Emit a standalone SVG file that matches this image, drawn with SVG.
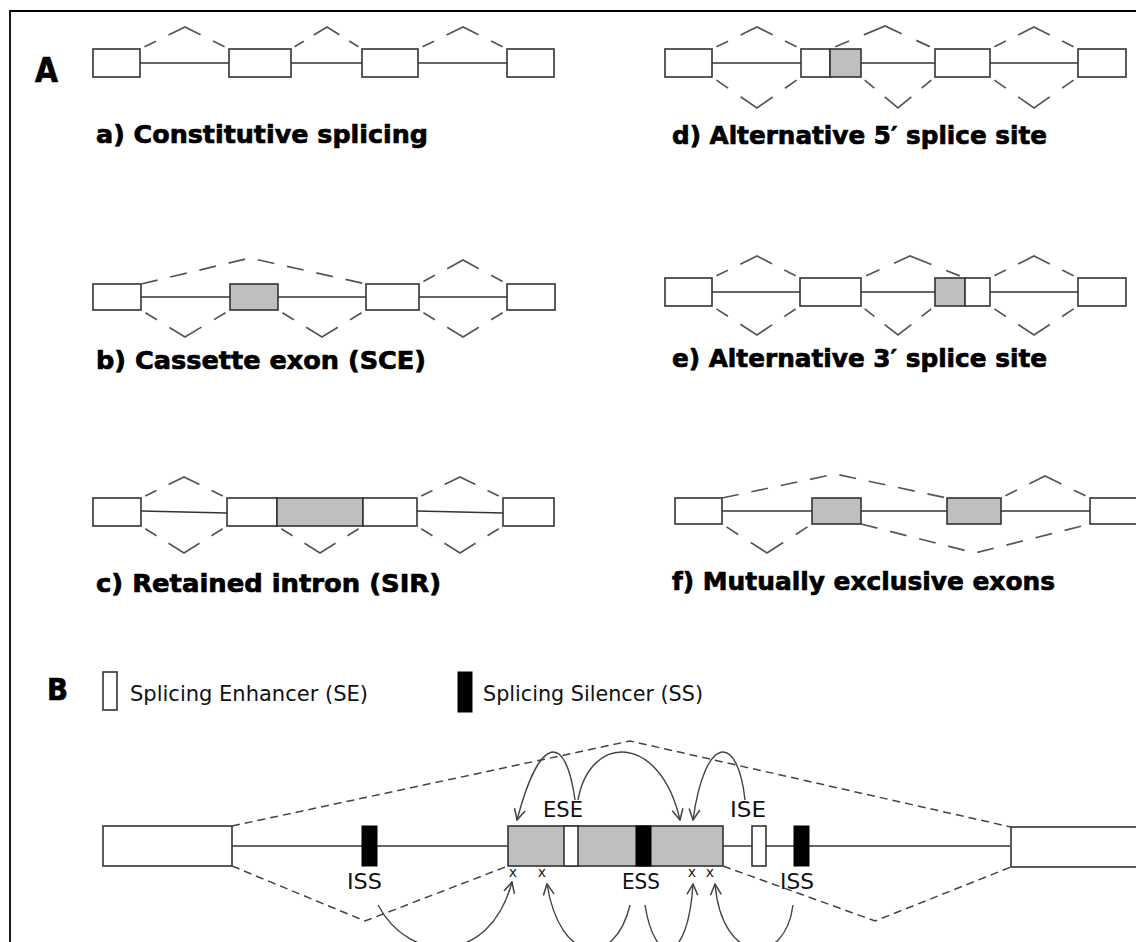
<svg xmlns="http://www.w3.org/2000/svg" width="1136" height="942" viewBox="0 0 1136 942">
<defs>
<style>
.ex{fill:#fff;stroke:#333;stroke-width:1.6}
.gr{fill:#bfbfbf;stroke:#333;stroke-width:1.6}
.bk{fill:#000;stroke:#000;stroke-width:1}
.in{stroke:#333;stroke-width:1.6;fill:none}
.sp{fill:none;stroke:#555;stroke-width:1.7;stroke-dasharray:0 5 13 14 36 14 13 5}
.lg{fill:none;stroke:#555;stroke-width:1.7;stroke-dasharray:17 13}
.bd{fill:none;stroke:#444;stroke-width:1.5;stroke-dasharray:8 5}
.ar{fill:none;stroke:#444;stroke-width:1.4;marker-end:url(#ah)}
.t{font-family:"DejaVu Sans","Liberation Sans",sans-serif;font-weight:bold;font-size:25px;fill:#000;stroke:#000;stroke-width:0.7}
.n{font-family:"DejaVu Sans","Liberation Sans",sans-serif;font-size:22px;fill:#111}
.x{font-family:"DejaVu Sans","Liberation Sans",sans-serif;font-size:14px;fill:#222}
</style>
<marker id="ah" viewBox="0 0 12 12" refX="11" refY="6" markerWidth="13" markerHeight="13" markerUnits="userSpaceOnUse" orient="auto">
<path d="M1,1 L11,6 L1,11" fill="none" stroke="#444" stroke-width="1.4"/>
</marker>
</defs>
<rect width="1136" height="942" fill="#fff"/>
<path d="M10,942 L10,11 L1136,11" fill="none" stroke="#000" stroke-width="1.8"/>

<text class="t" x="35" y="82" style="font-size:34px" textLength="23" lengthAdjust="spacingAndGlyphs">A</text>
<text class="t" x="47" y="700" style="font-size:31px" textLength="21" lengthAdjust="spacingAndGlyphs">B</text>

<g id="panel-a">
<line class="in" x1="140" y1="63" x2="507" y2="63"/>
<rect class="ex" x="93" y="49" width="47" height="28"/>
<rect class="ex" x="229" y="49" width="62" height="28"/>
<rect class="ex" x="362" y="49" width="56" height="28"/>
<rect class="ex" x="507" y="49" width="47" height="28"/>
<text class="t" x="96" y="143" textLength="332" lengthAdjust="spacingAndGlyphs">a) Constitutive splicing</text>
</g>

<g id="panel-b">
<line class="in" x1="141" y1="297" x2="507" y2="297"/>
<rect class="ex" x="93" y="284" width="48" height="26"/>
<rect class="gr" x="230" y="284" width="48" height="26"/>
<rect class="ex" x="366" y="284" width="53" height="26"/>
<rect class="ex" x="507" y="284" width="48" height="26"/>
<text class="t" x="96" y="369" textLength="330" lengthAdjust="spacingAndGlyphs">b) Cassette exon (SCE)</text>
</g>

<g id="panel-c">
<line class="in" x1="141" y1="511" x2="227" y2="513"/>
<line class="in" x1="417" y1="511" x2="503" y2="513"/>
<rect class="ex" x="93" y="498" width="48" height="28"/>
<rect class="ex" x="227" y="498" width="50" height="28"/>
<rect class="gr" x="277" y="498" width="86" height="28"/>
<rect class="ex" x="363" y="498" width="54" height="28"/>
<rect class="ex" x="503" y="498" width="51" height="28"/>
<text class="t" x="96" y="592" textLength="345" lengthAdjust="spacingAndGlyphs">c) Retained intron (SIR)</text>
</g>

<g id="panel-d">
<line class="in" x1="712" y1="63" x2="1078" y2="63"/>
<rect class="ex" x="665" y="49" width="47" height="28"/>
<rect class="ex" x="801" y="49" width="29" height="28"/>
<rect class="gr" x="830" y="49" width="31" height="28"/>
<rect class="ex" x="935" y="49" width="55" height="28"/>
<rect class="ex" x="1078" y="49" width="48" height="28"/>
<text class="t" x="672" y="144" textLength="375" lengthAdjust="spacingAndGlyphs">d) Alternative 5′ splice site</text>
</g>

<g id="panel-e">
<line class="in" x1="712" y1="292" x2="1078" y2="292"/>
<rect class="ex" x="665" y="278" width="47" height="28"/>
<rect class="ex" x="800" y="278" width="61" height="28"/>
<rect class="gr" x="935" y="278" width="30" height="28"/>
<rect class="ex" x="965" y="278" width="25" height="28"/>
<rect class="ex" x="1078" y="278" width="48" height="28"/>
<text class="t" x="672" y="367" textLength="375" lengthAdjust="spacingAndGlyphs">e) Alternative 3′ splice site</text>
</g>

<g id="panel-f">
<line class="in" x1="722" y1="511" x2="1090" y2="511"/>
<rect class="ex" x="675" y="498" width="47" height="26"/>
<rect class="gr" x="812" y="498" width="49" height="26"/>
<rect class="gr" x="947" y="498" width="54" height="26"/>
<rect class="ex" x="1090" y="498" width="60" height="26"/>
<text class="t" x="672" y="590" textLength="383" lengthAdjust="spacingAndGlyphs">f) Mutually exclusive exons</text>
</g>

<g id="legend">
<rect class="ex" x="103" y="672" width="14" height="38" stroke-width="1.2"/>
<text class="n" x="130" y="701" textLength="238" lengthAdjust="spacingAndGlyphs">Splicing Enhancer (SE)</text>
<rect class="bk" x="458" y="672" width="14" height="40"/>
<text class="n" x="483" y="701" textLength="220" lengthAdjust="spacingAndGlyphs">Splicing Silencer (SS)</text>
</g>

<g id="gene-B">
<line class="in" x1="232" y1="846" x2="1010" y2="846"/>
<rect class="ex" x="103" y="826" width="129" height="40"/>
<rect class="bk" x="362" y="826" width="15" height="40"/>
<rect class="gr" x="508" y="826" width="215" height="40"/>
<rect class="ex" x="564" y="826" width="14" height="40"/>
<rect class="bk" x="636" y="826" width="15" height="40"/>
<rect class="ex" x="752" y="826" width="14" height="40"/>
<rect class="bk" x="794" y="826" width="15" height="40"/>
<rect class="ex" x="1011" y="827" width="140" height="40"/>
<text class="n" x="543" y="817" textLength="40" lengthAdjust="spacingAndGlyphs">ESE</text>
<text class="n" x="730" y="817" textLength="36" lengthAdjust="spacingAndGlyphs">ISE</text>
<text class="n" x="347" y="889" textLength="35" lengthAdjust="spacingAndGlyphs">ISS</text>
<text class="n" x="622" y="889" textLength="38" lengthAdjust="spacingAndGlyphs">ESS</text>
<text class="n" x="780" y="889" textLength="34" lengthAdjust="spacingAndGlyphs">ISS</text>
<text class="x" x="513" y="877" text-anchor="middle">x</text>
<text class="x" x="542" y="877" text-anchor="middle">x</text>
<text class="x" x="692" y="877" text-anchor="middle">x</text>
<text class="x" x="710" y="877" text-anchor="middle">x</text>
</g>

<g id="connectors">
<path class="sp" pathLength="100" d="M140,49 L185,27 L229,49"/>
<path class="sp" pathLength="100" d="M291,49 L327,27 L362,49"/>
<path class="sp" pathLength="100" d="M418,49 L463,27 L507,49"/>
<path class="lg" d="M141,284 L250,258 L366,284"/>
<path class="sp" pathLength="100" d="M419,284 L463,260 L507,284"/>
<path class="sp" pathLength="100" d="M141,310 L185,337 L230,310"/>
<path class="sp" pathLength="100" d="M278,310 L322,337 L366,310"/>
<path class="sp" pathLength="100" d="M419,310 L463,337 L507,310"/>
<path class="sp" pathLength="100" d="M141,498 L184,477 L227,498"/>
<path class="sp" pathLength="100" d="M417,498 L460,477 L503,498"/>
<path class="sp" pathLength="100" d="M141,526 L184,553 L227,526"/>
<path class="sp" pathLength="100" d="M277,526 L320,553 L363,526"/>
<path class="sp" pathLength="100" d="M417,526 L460,553 L503,526"/>
<path class="sp" pathLength="100" d="M712,49 L757,27 L801,49"/>
<path class="sp" pathLength="100" d="M830,49 L885,26 L935,49"/>
<path class="sp" pathLength="100" d="M990,49 L1034,27 L1078,49"/>
<path class="sp" pathLength="100" d="M712,77 L757,108 L801,77"/>
<path class="sp" pathLength="100" d="M861,77 L898,108 L935,77"/>
<path class="sp" pathLength="100" d="M990,77 L1034,108 L1078,77"/>
<path class="sp" pathLength="100" d="M712,278 L757,256 L800,278"/>
<path class="sp" pathLength="100" d="M861,278 L910,256 L965,278"/>
<path class="sp" pathLength="100" d="M990,278 L1034,256 L1078,278"/>
<path class="sp" pathLength="100" d="M712,306 L757,335 L800,306"/>
<path class="sp" pathLength="100" d="M861,306 L898,335 L935,306"/>
<path class="sp" pathLength="100" d="M990,306 L1034,335 L1078,306"/>
<path class="lg" d="M722,498 L835,474 L947,498"/>
<path class="sp" pathLength="100" d="M1001,498 L1045,476 L1090,498"/>
<path class="sp" pathLength="100" d="M722,524 L767,553 L812,524"/>
<path class="lg" d="M861,524 L975,553 L1090,524"/>
<path class="bd" d="M232,826 L630,741 L1011,827"/>
<path class="bd" d="M232,866 L365,921 L508,866"/>
<path class="bd" d="M723,866 L875,921 L1011,867"/>
<path class="ar" d="M575,800 C566,733 540,733 517,820"/>
<path class="ar" d="M578,800 C590,733 660,733 680,820"/>
<path class="ar" d="M745,800 C738,733 705,733 693,820"/>
<path class="ar" d="M378,905 C410,965 490,965 512,882"/>
<path class="ar" d="M630,905 C615,968 560,965 547,884"/>
<path class="ar" d="M645,905 C655,968 688,965 693,884"/>
<path class="ar" d="M793,905 C785,968 722,965 715,884"/>
</g>
</svg>
